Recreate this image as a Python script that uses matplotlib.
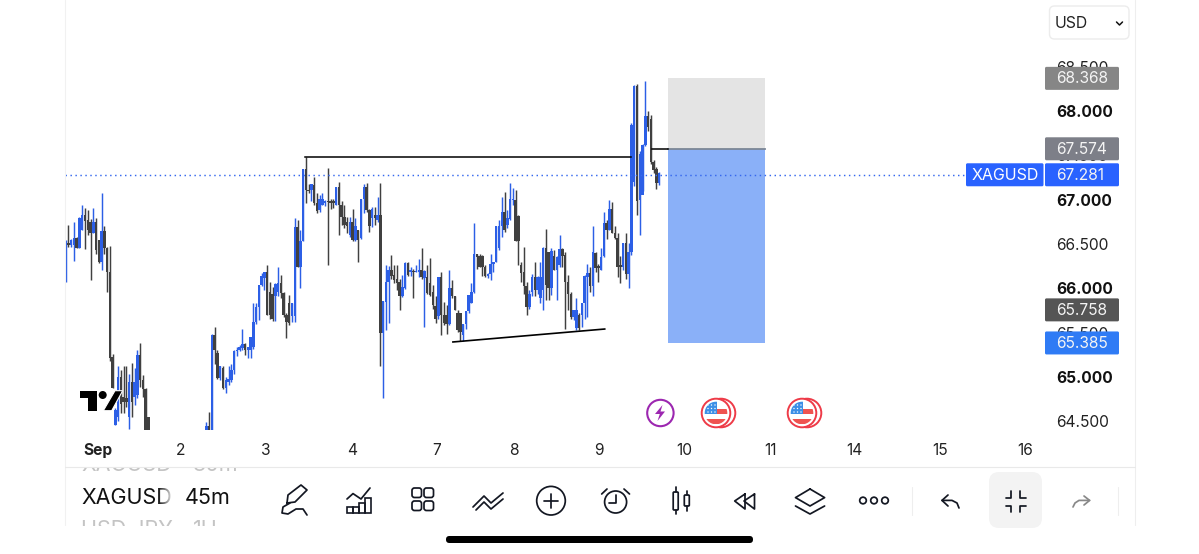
"""XAGUSD 45m candle chart, phone screenshot with toolbar."""
import numpy as np
import matplotlib
matplotlib.use("Agg")
import matplotlib.pyplot as plt
from matplotlib.patches import Circle, FancyBboxPatch, Polygon, Rectangle

plt.rcParams["font.family"] = ["Inter", "DejaVu Sans"]

BLUE, DARK, INK = "#2c5fe6", "#404040", "#131722"
W, H = 1199, 554

# bars 0-30, then the stretch that runs below the visible range, then the rest
OFF = [np.nan] * 20
opens = [
    66.13, 66.51, 66.49, 66.49, 66.57, 66.46, 66.66, 66.83, 66.77, 66.75,
    66.62, 66.75, 66.55, 66.30, 66.65, 66.46, 66.18, 65.23, 64.46, 64.55,
    65.00, 64.78, 64.76, 64.55, 64.95, 64.78, 64.80, 65.25, 64.97, 64.87,
    64.55] + OFF + [
    64.25, 64.45, 64.30, 65.48, 65.27, 64.99, 65.10, 64.88, 64.95, 64.97,
    65.08, 65.29, 65.30, 65.33, 65.37, 65.30, 65.30, 65.34, 65.62, 65.79,
    66.04, 66.12, 66.19, 65.96, 65.94, 65.91, 65.96, 66.06, 65.95, 65.70,
    65.84, 65.69, 65.69, 66.69, 66.24, 66.54, 67.35, 67.11, 67.11, 67.17,
    66.96, 66.88, 66.94, 66.96, 66.98, 66.98, 66.98, 66.94, 67.14, 66.94,
    66.81, 66.75, 66.60, 66.75, 66.55, 66.66,
    66.57, 67.01, 67.14, 66.88, 66.79, 66.83, 66.77, 66.83, 65.50, 65.85,
    66.07, 66.21, 66.15, 66.11, 66.07, 65.91, 66.00, 66.29, 66.18, 66.20,
    66.18, 66.19, 66.21, 66.12, 66.13, 66.06, 65.96, 65.80, 65.69, 66.13,
    65.70, 65.70, 65.60, 66.00, 65.91, 65.72, 65.72, 65.48, 65.60, 65.74,
    65.84, 65.96, 66.39, 66.36, 66.36, 66.24, 66.14, 66.16, 66.27, 66.30,
    66.45, 66.70, 66.86, 66.71, 66.78, 67.00, 67.00, 66.82, 66.26, 66.18,
    66.03, 65.79, 65.96, 66.13, 65.98, 65.89, 65.98, 66.46, 66.41, 66.00,
    66.36, 66.21, 66.26, 66.44, 66.38, 66.07, 65.94, 65.68, 65.55, 65.70,
    65.70, 65.83, 66.13, 66.17, 66.03, 66.40, 66.25, 66.21, 66.36, 66.74,
    66.66, 66.90, 66.63, 66.57, 66.26, 66.24, 66.51, 66.16, 66.41,
    67.20, 68.28, 67.00, 67.05, 67.62, 67.94, 67.91, 67.43, 67.35, 67.19]
highs = [
    66.55, 66.71, 66.56, 66.75, 66.58, 66.81, 66.94, 66.91, 66.88, 66.78,
    66.91, 66.79, 66.55, 67.08, 66.70, 66.47, 66.48, 65.26, 64.65, 65.13,
    65.08, 65.12, 65.12, 65.04, 65.16, 65.10, 65.30, 65.38, 65.02, 64.88,
    64.55] + OFF + [
    64.49, 64.61, 65.49, 65.57, 65.30, 65.12, 65.12, 65.00, 65.13, 65.15,
    65.30, 65.34, 65.36, 65.54, 65.38, 65.34, 65.45, 65.83, 65.84, 66.04,
    66.17, 66.19, 66.26, 66.07, 66.02, 66.06, 66.24, 66.15, 65.96, 65.72,
    65.92, 65.84, 66.79, 66.77, 66.66, 67.35, 67.48, 67.18, 67.18, 67.26,
    67.07, 67.05, 67.08, 67.00, 67.36, 67.01, 67.01, 67.14, 67.20, 66.98,
    66.94, 66.81, 66.81, 66.90, 66.79, 66.66,
    67.01, 67.18, 67.19, 66.90, 66.92, 66.92, 67.03, 67.19, 65.86, 66.26,
    66.25, 66.38, 66.26, 66.26, 66.11, 66.15, 66.30, 66.30, 66.24, 66.22,
    66.26, 66.33, 66.46, 66.21, 66.26, 66.34, 66.04, 65.91, 66.13, 66.19,
    65.85, 65.81, 66.21, 66.09, 65.91, 65.76, 65.72, 65.60, 65.74, 65.92,
    66.06, 66.74, 66.39, 66.39, 66.38, 66.26, 66.17, 66.39, 66.30, 66.70,
    66.77, 67.03, 67.09, 66.88, 67.19, 67.13, 67.11, 66.83, 66.30, 66.47,
    66.07, 65.98, 66.16, 66.30, 66.14, 66.30, 66.47, 66.67, 66.41, 66.45,
    66.43, 66.36, 66.60, 66.45, 66.41, 66.15, 65.96, 65.76, 65.89, 65.72,
    65.84, 66.15, 66.28, 66.24, 66.70, 66.41, 66.28, 66.45, 66.86, 66.77,
    67.00, 66.97, 66.70, 66.62, 66.36, 66.51, 66.62, 66.51, 67.86,
    68.29, 68.30, 67.55, 67.63, 68.34, 68.00, 67.95, 67.45, 67.37, 67.31]
lows = [
    66.07, 66.47, 66.47, 66.31, 66.45, 66.45, 66.66, 66.44, 66.60, 66.10,
    66.62, 66.39, 66.29, 66.21, 66.39, 65.96, 65.18, 64.88, 64.46, 64.50,
    64.59, 64.59, 64.66, 64.41, 64.55, 64.68, 64.76, 64.89, 64.78, 64.30,
    64.20] + OFF + [
    64.20, 64.25, 64.30, 65.15, 64.98, 64.97, 64.87, 64.82, 64.91, 64.95,
    65.03, 65.24, 65.29, 65.31, 65.25, 65.22, 65.22, 65.32, 65.60, 65.64,
    66.03, 65.98, 65.70, 65.66, 65.63, 65.63, 65.91, 65.89, 65.68, 65.44,
    65.59, 65.62, 65.62, 66.24, 66.01, 66.54, 66.96, 67.07, 66.99, 66.94,
    66.85, 66.86, 66.94, 66.93, 66.26, 66.90, 66.91, 66.94, 66.60, 66.71,
    66.68, 66.62, 66.58, 66.54, 66.54, 66.30,
    66.56, 66.85, 66.86, 66.64, 66.69, 66.71, 66.75, 65.12, 64.76, 65.53,
    65.61, 66.11, 66.06, 65.98, 65.76, 65.90, 65.99, 66.14, 66.14, 65.89,
    66.18, 66.13, 66.11, 65.56, 65.94, 65.91, 65.77, 65.61, 65.66, 65.48,
    65.59, 65.49, 65.59, 65.89, 65.76, 65.51, 65.41, 65.41, 65.54, 65.72,
    65.84, 65.95, 66.22, 66.24, 66.14, 66.13, 66.12, 66.09, 66.19, 66.30,
    66.43, 66.58, 66.64, 66.68, 66.77, 66.94, 66.53, 66.26, 66.07, 65.94,
    65.70, 65.77, 65.91, 65.91, 65.94, 65.83, 65.76, 65.87, 65.87, 65.92,
    66.21, 65.87, 66.24, 66.24, 65.54, 65.76, 65.66, 65.64, 65.53, 65.53,
    65.57, 65.66, 65.68, 65.96, 65.91, 66.19, 66.07, 66.21, 66.35, 66.56,
    66.66, 66.62, 66.56, 66.13, 66.06, 66.21, 66.11, 66.00, 66.38,
    67.15, 66.83, 66.60, 67.10, 67.60, 67.78, 67.40, 67.30, 67.12, 67.17]
closes = [
    66.49, 66.49, 66.55, 66.57, 66.45, 66.79, 66.83, 66.76, 66.66, 66.62,
    66.75, 66.43, 66.30, 66.65, 66.45, 66.18, 65.21, 64.88, 64.63, 65.00,
    64.70, 64.72, 64.72, 64.94, 64.72, 64.95, 65.25, 64.97, 64.87, 64.30,
    64.25] + OFF + [
    64.45, 64.30, 65.48, 65.30, 64.99, 65.12, 64.88, 64.97, 64.98, 65.08,
    65.29, 65.31, 65.34, 65.37, 65.30, 65.34, 65.45, 65.62, 65.79, 66.04,
    66.14, 66.19, 65.70, 65.70, 65.66, 66.05, 66.06, 65.95, 65.70, 65.62,
    65.61, 65.84, 66.69, 66.24, 66.54, 67.35, 67.11, 67.10, 67.18, 66.96,
    66.87, 67.01, 67.01, 66.98, 66.97, 66.96, 66.96, 67.14, 66.94, 66.81,
    66.71, 66.70, 66.75, 66.55, 66.70, 66.55,
    67.01, 67.14, 66.88, 66.70, 66.89, 66.79, 66.83, 65.50, 65.86, 66.07,
    66.21, 66.14, 66.09, 66.06, 65.91, 66.02, 66.29, 66.15, 66.21, 66.19,
    66.20, 66.21, 66.13, 66.20, 65.95, 65.92, 65.81, 65.66, 66.13, 65.70,
    65.61, 65.60, 66.00, 65.91, 65.76, 65.53, 65.51, 65.60, 65.74, 65.92,
    65.96, 66.39, 66.35, 66.24, 66.24, 66.14, 66.16, 66.27, 66.30, 66.70,
    66.70, 66.86, 66.66, 66.79, 67.01, 67.01, 66.54, 66.54, 66.17, 66.03,
    65.79, 65.94, 66.13, 65.98, 66.13, 66.13, 66.46, 66.04, 66.00, 66.42,
    66.21, 66.35, 66.44, 66.36, 66.07, 65.94, 65.68, 65.76, 65.76, 65.55,
    65.83, 66.14, 66.17, 66.03, 66.41, 66.23, 66.23, 66.35, 66.74, 66.66,
    66.90, 66.63, 66.57, 66.24, 66.24, 66.51, 66.16, 66.41, 67.84,
    68.28, 66.99, 67.52, 67.62, 67.94, 67.82, 67.43, 67.33, 67.19, 67.30]

last_price = 67.281
tp_price, entry_price, sl_price, low_tag = 68.368, 67.574, 65.385, 65.758
resistance = 67.481
support_x, support_y = [140.3, 195.3], [65.396, 65.542]

y_ticks = [64.5, 65.0, 65.5, 66.0, 66.5, 67.0, 67.5, 68.0, 68.5]
day_labels = ["Sep", "2", "3", "4", "7", "8", "9", "10", "11", "14", "15", "16"]
day_bars = [11.7, 41.8, 72.6, 103.7, 134.5, 162.4, 193.2, 224, 255.2, 285.9, 316.7, 347.5]

n = min(len(opens), len(highs), len(lows), len(closes))
o, h, l, c = [np.array(a[:n], float) for a in (opens, highs, lows, closes)]
x = np.arange(n)
up = c >= o
colors = np.where(up, BLUE, DARK)

fig = plt.figure(figsize=(W / 100, H / 100), dpi=100, facecolor="white")
ax = fig.add_axes([65 / W, (H - 430) / H, 980 / W, 430 / H], facecolor="none")
ax.set_xlim(-0.25, -0.25 + 980 / 2.76)
ax.set_ylim(68 - 319 / 88.7, 68 + 111 / 88.7)

ok = ~np.isnan(o)
ax.vlines(x[ok], l[ok], h[ok], colors=colors[ok], lw=1.05, zorder=3)
ax.bar(x[ok], np.abs(c - o)[ok], bottom=np.minimum(o, c)[ok], width=0.9,
       color=colors[ok], lw=0, zorder=3)

# long/short position tool
left, right = 218.2, 253.4
ax.add_patch(Rectangle((left, entry_price), right - left, tp_price - entry_price, color="#e4e4e4", lw=0, zorder=1))
ax.add_patch(Rectangle((left, sl_price), right - left, entry_price - sl_price, color="#8ab0f8", lw=0, zorder=1))
ax.plot([left, right], [entry_price, entry_price], color="#7c8796", lw=1.3, zorder=2)

ax.axhline(last_price, xmax=901 / 980, color="#3568ee", ls=(0, (1.0, 2.4)), lw=1.05, zorder=4)
ax.plot([86.7, 204.8], [resistance, resistance], color="black", lw=1.1, zorder=5)
ax.plot([212.5, left], [entry_price, entry_price], color="black", lw=1.1, zorder=5)
ax.plot(support_x, support_y, color="black", lw=1.2, zorder=5)

for s in ax.spines.values():
    s.set_visible(False)
ax.yaxis.tick_right()
ax.set_yticks(y_ticks, [f"{v:.3f}" for v in y_ticks])
ax.set_xticks(day_bars, day_labels)
ax.tick_params(axis="both", length=0, labelcolor="#222222", labelsize=11.2)
ax.tick_params(axis="y", pad=8)
ax.tick_params(axis="x", pad=9.5)
for v, t in zip(y_ticks, ax.get_yticklabels()):
    if v == int(v):
        t.set_fontweight("bold")
        t.set_color("#111111")
ax.get_xticklabels()[0].set_fontweight("bold")

# screen furniture, in pixel coordinates
ov = fig.add_axes([0, 0, 1, 1], facecolor="none", zorder=5)
ov.set_xlim(0, W)
ov.set_ylim(H, 0)
ov.axis("off")


def price_y(p):
    return H - ax.transData.transform((0, p))[1]


def box(x0, y0, x1, y1, fc, ec="none", r=2, lw=0, z=6):
    ov.add_patch(FancyBboxPatch((x0 + r, y0 + r), x1 - x0 - 2 * r, y1 - y0 - 2 * r,
                                boxstyle=f"round,pad={r},rounding_size={r}",
                                fc=fc, ec=ec, lw=lw, zorder=z))


def line(pts, color=INK, lw=1.25, z=7):
    px, py = zip(*pts)
    ov.plot(px, py, color=color, lw=lw, solid_capstyle="round", solid_joinstyle="round", zorder=z)


def ring(cx, cy, r, color=INK, lw=1.25, fc="none", z=7):
    p = Circle((cx, cy), r, fc=fc, ec=color, lw=lw, zorder=z)
    ov.add_patch(p)
    return p


# side rules and separators
line([(65, 0), (65, 525)], "#f1f1f1", 0.8, 1)
line([(1135, 0), (1135, 525)], "#eeeeee", 0.8, 1)
line([(65, 467), (1135, 467)], "#e9e9e9", 0.8, 1)
line([(912, 487), (912, 515)], "#eeeeee", 0.8, 1)
line([(1118, 487), (1118, 515)], "#eeeeee", 0.8, 1)

# price tags
tags = [(tp_price, "#868686"), (entry_price, "#7d7f88"), (last_price, "#2962ff"),
        (low_tag, "#555555"), (sl_price, "#2f7bf5")]
for p, col in tags:
    yc = price_y(p)
    box(1045, yc - 11.5, 1119, yc + 11.5, col, r=1.5)
    ov.text(1056, yc + 0.5, f"{p:.3f}", color="#f4f4f4", fontsize=11.2, va="center", zorder=8)
yc = price_y(last_price)
box(966, yc - 11.5, 1043.5, yc + 11.5, "#2962ff", r=1.5)
ov.text(972, yc + 0.5, "XAGUSD", color="white", fontsize=11.5, va="center", zorder=8)

# currency selector
box(1049.5, 6, 1129, 39, "white", "#ececec", r=5, lw=1)
ov.text(1055, 23, "USD", color="#222222", fontsize=11.4, va="center", zorder=8)
line([(1116.5, 22), (1119.5, 25), (1122.5, 22)], "#111111", 1.1)

# watermark logo
ov.add_patch(Polygon([(80, 390.7), (97, 390.7), (97, 410.7), (88, 410.7), (88, 398), (80, 398)], fc="black", lw=0, zorder=7))
ov.add_patch(Circle((102.7, 395), 4, fc="black", lw=0, zorder=7))
ov.add_patch(Polygon([(103.3, 410.7), (115, 390.7), (122.7, 390.7), (111.7, 410.7)], fc="black", ec="white", lw=0.8, zorder=7))

# event badges
ring(660.4, 413, 13.2, "#9c27b0", 1.5, "white")
ov.add_patch(Polygon([(662.5, 405), (655, 414), (659.8, 414), (657.5, 421), (665, 411.5), (660.5, 411.5)],
                     fc="#9c27b0", lw=0, zorder=8))
for cx in (716, 802):
    ring(cx + 5, 413, 14.3, "#ee3b48", 1.4, "white", 7)
    rim = ring(cx, 413, 14.3, "#ee3b48", 1.4, "white", 7)
    inner = Circle((cx, 413), 11.3, transform=ov.transData)
    parts = [Rectangle((cx - 12, 401), 13, 13, fc="#3d8fe6", lw=0, zorder=8),
             Rectangle((cx + 1, 409), 12, 5, fc="#ef5350", lw=0, zorder=8),
             Rectangle((cx - 12, 419), 24, 5, fc="#ef5350", lw=0, zorder=8)]
    for part in parts:
        ov.add_patch(part)
        part.set_clip_path(inner)
    for dx in (-8, -4.5, -1):
        for dy in (-8, -4.5, -1):
            ov.add_patch(Circle((cx + dx, 413 + dy), 0.7, fc="white", lw=0, zorder=9))

# symbol strip with scrolling neighbours
ghost_top = ov.text(81, 465, "XAGUSD", color="#c4c4c4", fontsize=15.5, va="center", zorder=3)
ghost_top_tf = ov.text(193, 465, "30m", color="#c4c4c4", fontsize=15.5, va="center", zorder=3)
ghost_low = ov.text(81, 530, "USD JPY", color="#c4c4c4", fontsize=15.5, va="center", zorder=3)
ghost_low_tf = ov.text(193, 530, "1H", color="#c4c4c4", fontsize=15.5, va="center", zorder=3)
for g in (ghost_top, ghost_top_tf):
    g.set_clip_on(True)
    g.set_clip_path(Rectangle((70, 468), 200, 8, transform=ov.transData))
for g in (ghost_low, ghost_low_tf):
    g.set_clip_on(True)
    g.set_clip_path(Rectangle((70, 515), 200, 11, transform=ov.transData))
ov.text(81, 497.5, "XAGUSD", color="#111111", fontsize=15.5, va="center", zorder=7)
ov.text(185, 497.5, "45m", color="#111111", fontsize=15.5, va="center", zorder=7)
fade = np.ones((1, 32, 4))
fade[0, :, 3] = np.linspace(0, 1, 32)
ov.imshow(fade, extent=(158, 174, 510, 485), aspect="auto", zorder=8)
ov.set_xlim(0, W)
ov.set_ylim(H, 0)

# toolbar icons
line([(287, 503), (288, 495), (301, 485), (307, 490), (295, 502), (287, 503)])
line([(290, 503), (283, 507), (282, 513), (288, 514), (296, 509), (303, 509), (307, 515)])
line([(347, 499), (353, 493.6), (361, 499), (370, 488)])
for bx, top in [(347, 507), (353, 507), (359, 503), (365, 498)]:
    ov.add_patch(Rectangle((bx, top), 6, 513 - top, fc="none", ec=INK, lw=1.2, zorder=7))
for gx in (412, 424):
    for gy in (488, 501):
        box(gx, gy, gx + 9.5, gy + 9.5, "none", INK, r=2.5, lw=1.25, z=7)
line([(473, 507), (484, 496), (491, 503), (503, 493)])
line([(476, 510), (484, 502), (491, 509), (503, 499)])
ring(551, 500.7, 14.3)
line([(551, 493.5), (551, 508)])
line([(543.7, 500.7), (558.3, 500.7)])
ring(615.6, 502, 11)
line([(615.6, 495), (615.6, 503), (609, 503)])
line([(601.7, 494), (607, 489)])
line([(624, 489), (629.5, 494)])
for cx, y0, y1, b0, b1 in [(675.7, 487, 514, 492, 510), (686.8, 491, 511, 495, 506)]:
    line([(cx, y0), (cx, b0)])
    line([(cx, b1), (cx, y1)])
    box(cx - 2.5, b0, cx + 2.5, b1, "none", INK, r=1, lw=1.25, z=7)
for tip, back in [(734.7, 745), (744, 754.5)]:
    line([(back, 494), (tip, 501), (back, 509), (back, 494)])
line([(810, 489), (824.6, 497.6), (810, 506), (795.5, 497.6), (810, 489)])
line([(795.5, 506), (810, 514), (824.6, 506)])
for dot_x in (863, 874, 885):
    ring(dot_x, 500.5, 3.3)
line([(948, 495), (942, 500.4), (948, 506)])
line([(942, 500.4), (952, 500.4), (957, 503), (959, 508)])
line([(1084, 496), (1089.6, 500.4), (1084, 505)], "#888888")
line([(1089.6, 500.4), (1079, 500.4), (1075, 503), (1073, 507)], "#888888")
box(989, 472, 1042, 528, "#f3f3f3", r=10, z=2)
line([(1005.5, 497.6), (1011.4, 497.6), (1011.4, 490.7)])
line([(1026, 497.6), (1020, 497.6), (1020, 490.7)])
line([(1005.5, 506.3), (1011.4, 506.3), (1011.4, 512)])
line([(1026, 506.3), (1020, 506.3), (1020, 512)])

# home indicator
box(446, 536, 753, 543, "black", r=3.4)

fig.savefig("out.png", dpi=100)
